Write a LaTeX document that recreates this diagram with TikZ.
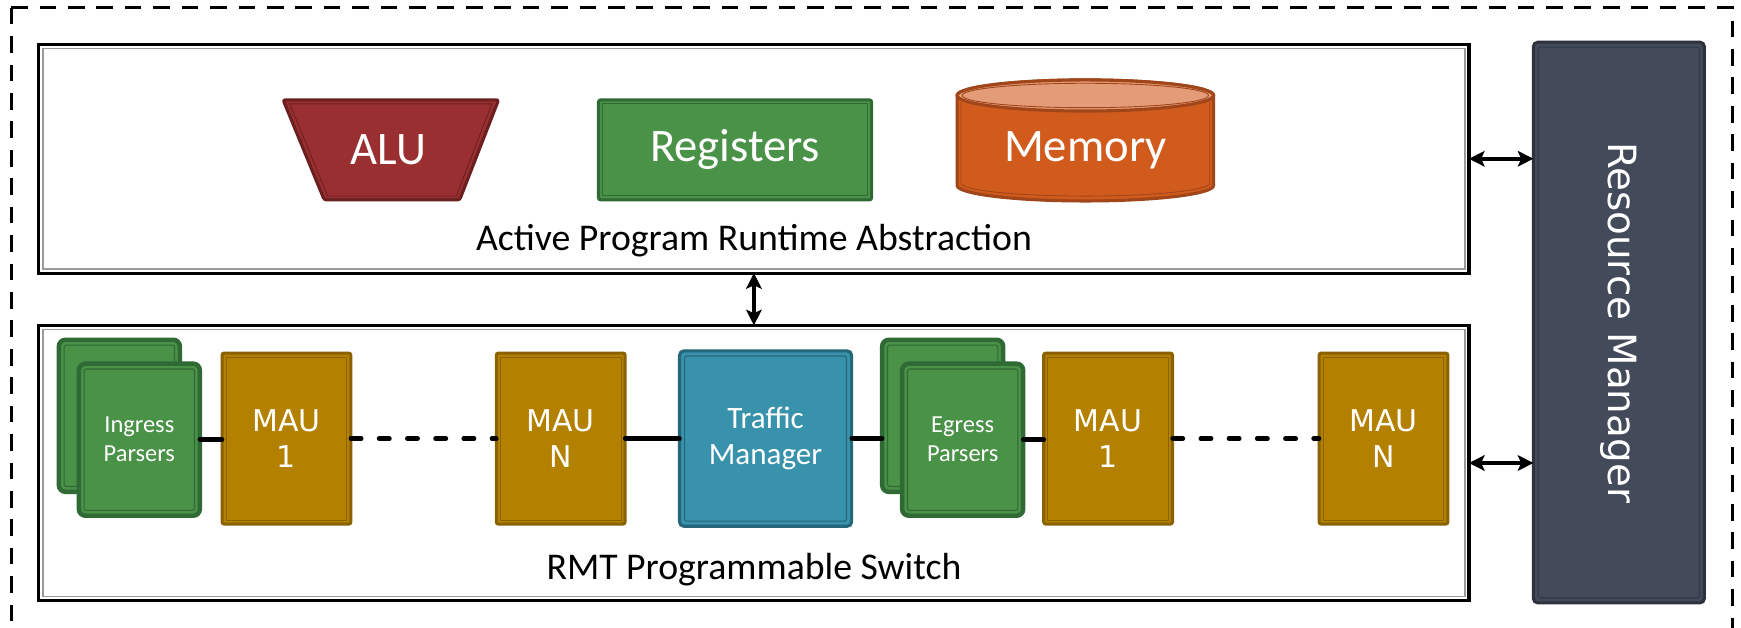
\documentclass[tikz,border=0pt]{standalone}
\usepackage{fontspec}
\setmainfont{Carlito}
\newfontfamily\dvsans{DejaVu Sans}
\usetikzlibrary{arrows.meta,calc}
\definecolor{alufill}{HTML}{9A2F31}
\definecolor{aludark}{HTML}{6B1F21}
\definecolor{regfill}{HTML}{4A9248}
\definecolor{regdark}{HTML}{2F6A35}
\definecolor{memfill}{HTML}{D15B1C}
\definecolor{memdark}{HTML}{A0461A}
\definecolor{memtop}{HTML}{E49C78}
\definecolor{maufill}{HTML}{B38000}
\definecolor{maudark}{HTML}{8A6200}
\definecolor{tmfill}{HTML}{3892AB}
\definecolor{tmdark}{HTML}{266679}
\definecolor{rmfill}{HTML}{434A5A}
\definecolor{rmdark}{HTML}{2D323C}
\definecolor{boxgray}{HTML}{9A9A9A}
\begin{document}
\begin{tikzpicture}[x=0.5pt,y=-0.5pt,
  bigbox/.style={draw=black, line width=1.4pt, fill=white, inner sep=0pt, outer sep=0pt},
  block/.style 2 args={draw=#2, fill=#1, line width=1.4pt, inner sep=0pt, outer sep=0pt, text=white, align=center},
  mau/.style={block={maufill}{maudark}, minimum width=58pt, minimum height=77pt, rounded corners=1pt,
    font=\dvsans\fontsize{13.5}{16.5}\selectfont},
  parser/.style={block={regfill}{regdark}, line width=2pt, rounded corners=3pt,
    minimum width=54.5pt, minimum height=68.5pt, font=\fontsize{11}{13}\selectfont},
  conn/.style={line width=2pt, line cap=round},
  dconn/.style={conn, dash pattern=on 4.7pt off 8pt},
  biarrow/.style={line width=1.7pt, {Stealth[length=7pt,width=7pt,inset=1.5pt]}-{Stealth[length=7pt,width=7pt,inset=1.5pt]}},
  biglabel/.style={font=\fontsize{17}{20}\selectfont, inner sep=0pt},
  bigtext/.style={text=white, font=\fontsize{21}{24}\selectfont, inner sep=0pt}
]
\useasboundingbox (0,0) rectangle (1568,565);
% outer dashed frame
\draw[line width=1.3pt, dash pattern=on 7.5pt off 5.3pt] (10,7) -- (10,600);
\draw[line width=1.3pt, dash pattern=on 7.5pt off 5.3pt] (10,7) -- (1560,7) -- (1560,600);

% big boxes
\node[bigbox, minimum width=644pt, minimum height=103pt] (top) at (679,143) {};
\node[bigbox, minimum width=644pt, minimum height=124pt] (bot) at (679,417) {};
\foreach \n in {top,bot}
  \draw[boxgray, line width=0.6pt] ([shift={(1.8pt,-1.8pt)}]\n.north west) rectangle ([shift={(-1.8pt,1.8pt)}]\n.south east);

% resource manager
\node[block={rmfill}{rmdark}, rounded corners=2pt, minimum width=77pt, minimum height=252.5pt] (rm) at (1458,290.5) {};
\draw[rmdark!70!rmfill, line width=0.5pt, rounded corners=1pt] ([shift={(2.2pt,-2.2pt)}]rm.north west) rectangle ([shift={(-2.2pt,2.2pt)}]rm.south east);
\node[rotate=-90, text=white, font=\dvsans\fontsize{17.5}{20}\selectfont, inner sep=0pt] (rmlabel) at (rm.center) {Resource Manager};

% ALU
\draw[aludark, fill=alufill, line width=1.4pt, rounded corners=1pt] (255,90) -- (449,90) -- (414,180) -- (292,180) -- cycle;
\draw[aludark, line width=0.4pt] (261,93.5) -- (443,93.5) -- (411,176.5) -- (295,176.5) -- cycle;
\node[bigtext] (alu) at (350,135) {ALU};

% Registers
\node[block={regfill}{regdark}, rounded corners=1pt, minimum width=123pt, minimum height=45pt,
  font=\fontsize{21}{24}\selectfont] (reg) at (662,135) {Registers};

% Memory
\draw[memdark, fill=memfill, line width=1.4pt] (862,86) -- (862,167)
  arc[start angle=180, end angle=360, x radius=57.75pt, y radius=7pt] -- (1093,86)
  arc[start angle=0, end angle=180, x radius=57.75pt, y radius=7pt] -- cycle;
\draw[memdark, fill=memtop, line width=1.4pt] (977.5,86) ellipse [x radius=57.75pt, y radius=7pt];
\draw[memdark, line width=0.4pt] (977.5,86) ellipse [x radius=55.5pt, y radius=5.5pt];
\draw[memdark, line width=0.4pt] (865.5,92) -- (865.5,165) arc[start angle=180, end angle=360, x radius=56pt, y radius=5.8pt] -- (1089.5,92);
\node[bigtext] (mem) at (977.5,135) {Memory};

\node[biglabel] (toplabel) at (679,217) {Active Program Runtime Abstraction};
\node[biglabel] (botlabel) at (679,513) {RMT Programmable Switch};

% switch pipeline
\node[parser] (ingb) at (107.5,374.5) {};
\draw[regdark, line width=0.5pt, rounded corners=1pt] ([shift={(2.4pt,-2.4pt)}]ingb.north west) rectangle ([shift={(-2.4pt,2.4pt)}]ingb.south east);
\node[parser] (ingf) at (125.5,396) {Ingress\\Parsers};
\node[mau] (maua) at (258,395) {MAU\\1};
\node[mau] (maub) at (505,395) {MAU\\N};
\node[block={tmfill}{tmdark}, rounded corners=2pt, minimum width=77.5pt, minimum height=79pt,
  font=\fontsize{14}{16.5}\selectfont] (tm) at (689.5,395) {Traffic\\Manager};
\node[parser] (egb) at (849,374.5) {};
\draw[regdark, line width=0.5pt, rounded corners=1pt] ([shift={(2.4pt,-2.4pt)}]egb.north west) rectangle ([shift={(-2.4pt,2.4pt)}]egb.south east);
\node[parser] (egf) at (867,396) {Egress\\Parsers};
\node[mau] (mauc) at (998,395) {MAU\\1};
\node[mau] (maud) at (1246,395) {MAU\\N};

\foreach \n/\c in {reg/regdark, maua/maudark, maub/maudark, mauc/maudark, maud/maudark}
  \draw[\c, line width=0.4pt] ([shift={(1.8pt,-1.8pt)}]\n.north west) rectangle ([shift={(-1.8pt,1.8pt)}]\n.south east);
\draw[tmdark, line width=0.5pt, rounded corners=1pt] ([shift={(2.3pt,-2.3pt)}]tm.north west) rectangle ([shift={(-2.3pt,2.3pt)}]tm.south east);
\foreach \n in {ingf,egf}
  \draw[regdark, line width=0.5pt, rounded corners=1pt] ([shift={(2.4pt,-2.4pt)}]\n.north west) rectangle ([shift={(-2.4pt,2.4pt)}]\n.south east);

% connectors
\draw[conn] (ingf.east) -- (ingf.east -| maua.west);
\draw[dconn] (maua.east) -- (maub.west);
\draw[conn] (maub.east) -- (tm.west);
\draw[conn] (tm.east) -- (tm.east -| egb.west);
\draw[conn] (egf.east) -- (egf.east -| mauc.west);
\draw[dconn] (mauc.east) -- (maud.west);

% arrows
\draw[biarrow] (top.south) -- (bot.north);
\draw[biarrow] (top.east) -- (top.east -| rm.west);
\draw[biarrow] (bot.east) -- (bot.east -| rm.west);
\end{tikzpicture}
\end{document}
